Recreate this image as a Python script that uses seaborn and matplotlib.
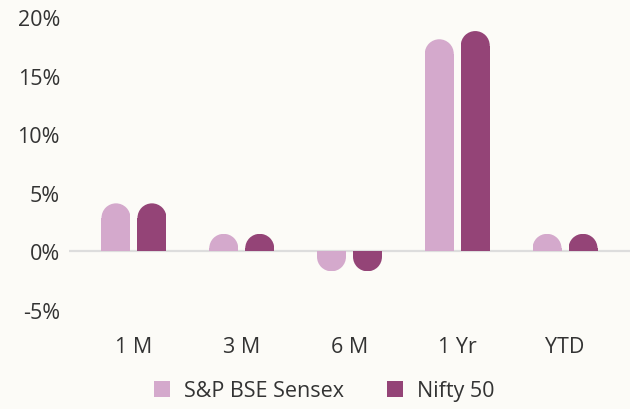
import pandas as pd
import matplotlib
matplotlib.use("Agg")
import matplotlib.pyplot as plt
from matplotlib.patches import Ellipse, Patch, Rectangle
import seaborn as sns

periods = ["1 M", "3 M", "6 M", "1 Yr", "YTD"]
sensex = [4.1, 1.5, -1.7, 18.1, 1.5]
nifty = [4.1, 1.5, -1.7, 18.8, 1.5]
series = ["S&P BSE Sensex", "Nifty 50"]
colors = ["#D4A9CC", "#944477"]
yticks = [-5, 0, 5, 10, 15, 20]

df = pd.DataFrame({
    "period": periods * 2,
    "value": sensex + nifty,
    "series": [series[0]] * len(periods) + [series[1]] * len(periods),
})

bg = "#FCFBF7"
sns.set_theme(style="white")
plt.rcParams["font.family"] = ["Open Sans", "DejaVu Sans"]

fig = plt.figure(figsize=(6.3, 4.1), dpi=100, facecolor=bg)
ax = fig.add_axes([69 / 630, 99 / 410, 561 / 630, 293 / 410])
ax.set_facecolor(bg)

sns.barplot(data=df, x="period", y="value", hue="series", palette=colors,
            width=0.668, gap=0.195, saturation=1, ax=ax, legend=False)

ax.set_xlim(-0.603, 4.603)
ax.set_ylim(-5, 20)
ax.set_yticks(yticks)
ax.set_yticklabels([f"{t}%" for t in yticks])
ax.set_xlabel("")
ax.set_ylabel("")
for s in ax.spines.values():
    s.set_visible(False)
ax.tick_params(axis="y", length=0, pad=6.5, labelsize=15.5, labelcolor="#333333")
ax.tick_params(axis="x", length=0, pad=19, labelsize=15.5, labelcolor="#333333")
ax.axhline(0, color="#DDDDDD", lw=1.6, zorder=0.5)

# rounded ends on bars
fig.canvas.draw()
bbox = ax.get_window_extent()
px_x = bbox.width / (ax.get_xlim()[1] - ax.get_xlim()[0])
px_y = bbox.height / 25.0
for p in list(ax.patches):
    x, w, h = p.get_x(), p.get_width(), p.get_height()
    if h == 0:
        continue
    ry = (w * px_x / 2) / px_y
    sign = 1 if h > 0 else -1
    newh = h - sign * ry
    p.set_height(newh)
    p.set_edgecolor("none")
    cap = Ellipse((x + w / 2, newh), w, 2 * ry, facecolor=p.get_facecolor(),
                  edgecolor="none", zorder=p.get_zorder())
    ax.add_patch(cap)
    clip = Rectangle((x, min(0, h)), w, abs(h), transform=ax.transData)
    cap.set_clip_path(clip)

handles = [Patch(facecolor=c, edgecolor="none") for c in colors]
fig.legend(handles, series, loc="center", bbox_to_anchor=(0.515, 0.044), ncol=2,
           frameon=False, fontsize=15.5, handlelength=0.75, handleheight=0.75,
           handletextpad=0.65, columnspacing=2.0, labelcolor="#333333")

fig.savefig("out.png", dpi=100, facecolor=bg)
